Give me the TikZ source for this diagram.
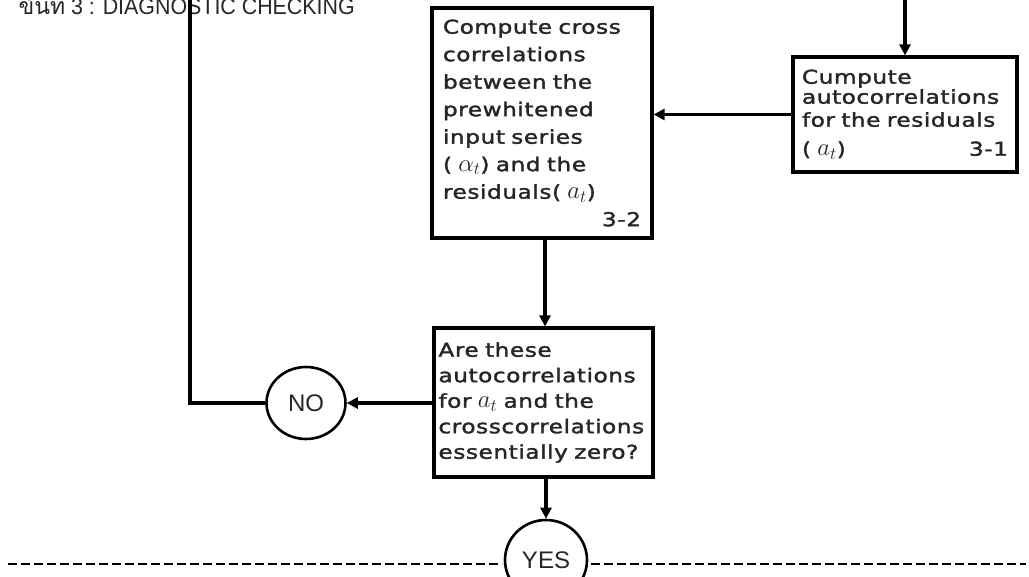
\documentclass[tikz,border=0pt]{standalone}
\usepackage{fontspec}
\setmainfont{DejaVu Sans}[LetterSpace=3,FakeStretch=1.22,FakeBold=1.8]
\newfontfamily\thaifont[Script=Thai]{Loma}
\newfontfamily\titlefont{Liberation Sans}[FakeStretch=0.93]
\newfontfamily\ovalfont{Liberation Sans}
\usetikzlibrary{arrows.meta,shapes.geometric}
\newcommand{\pushright}{\hskip 0pt plus 1filll\relax}
\newcommand{\mvar}[1]{{\fontsize{25}{25}\selectfont$#1_t$}}
\begin{document}
\begin{tikzpicture}[x=1pt,y=-1pt,
  box/.style={draw=black,line width=3.2pt,rectangle,inner sep=0pt,align=left,text=black!85},
  oval/.style={draw=black,ellipse,line width=2.6pt,inner sep=0pt,text=black!85,font=\ovalfont\fontsize{24}{26}\selectfont},
  conn/.style={line width=3.2pt,-{Triangle[length=11pt,width=11pt]}},
  plainline/.style={line width=3.2pt},
  dashline/.style={line width=2.4pt,dash pattern=on 9pt off 4pt}]
\useasboundingbox (0,0) rectangle (1029,577);

\node[anchor=base west,text=black!85,font=\titlefont\fontsize{23}{25}\selectfont] (title) at (15,15) {{\thaifont ขั้นที่} 3 : DIAGNOSTIC CHECKING};

\node[box,minimum width=224pt,minimum height=115pt,text width=206pt,font=\fontsize{19}{27}\selectfont] (box31) at (905,114.5)
  {Cumpute\\[-7pt]autocorrelations\\[-4pt]for the residuals\\[2pt]( \mvar{a})\pushright 3-1};

\node[box,minimum width=220pt,minimum height=230pt,text width=198pt,font=\fontsize{19}{27.5}\selectfont] (box32) at (542,123)
  {Compute cross\\correlations\\between the\\prewhitened\\input series\\( \mvar{\alpha}) and the\\residuals( \mvar{a})\\\pushright 3-2};

\node[box,minimum width=219pt,minimum height=149pt,text width=210pt,font=\fontsize{19}{25.5}\selectfont] (dec) at (543.5,402.5)
  {Are these\\autocorrelations\\for \mvar{a} and the\\crosscorrelations\\essentially zero?};

\node[oval,minimum width=79pt,minimum height=72pt] (no) at (306,403) {NO};
\node[oval,minimum width=82pt,minimum height=80pt] (yes) at (546,560) {YES};

\coordinate (topin) at (905,0);
\coordinate (looptop) at (190,0);
\coordinate (dl) at (8,564);
\coordinate (dlend) at (502,564);
\coordinate (drstart) at (591,564);
\coordinate (dr) at (1026,564);

\draw[conn] (topin) -- (box31.north);
\draw[conn] (box31.west) -- (box32.east |- box31.west);
\draw[conn] (box32.south -| 545,0) -- (dec.north -| 545,0);
\draw[conn] (dec.west |- no.east) -- (no.east);
\draw[plainline] (no.west) -| (looptop);
\draw[conn] (dec.south -| yes.north) -- (yes.north);
\draw[dashline] (dl) -- (dlend);
\draw[dashline] (drstart) -- (dr);
\end{tikzpicture}
\end{document}
